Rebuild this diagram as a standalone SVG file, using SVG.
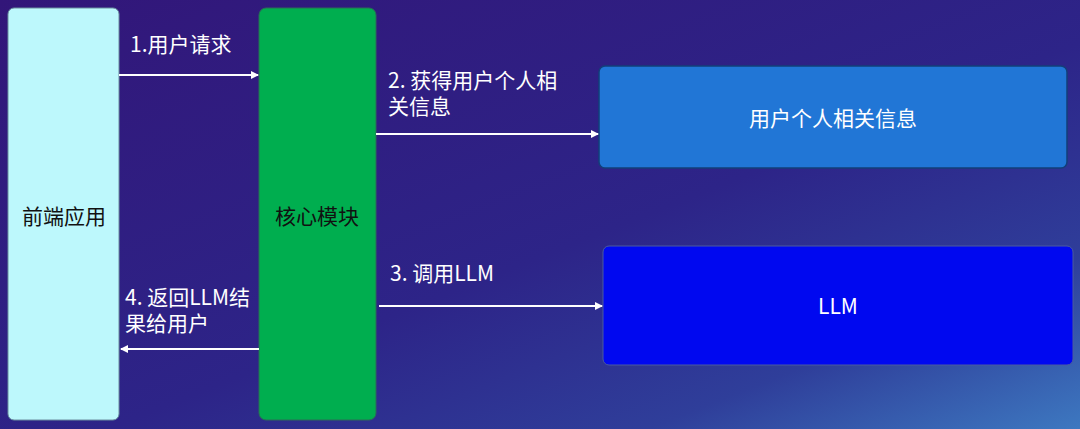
<svg xmlns="http://www.w3.org/2000/svg" width="1080" height="429" viewBox="0 0 1080 429">
<defs>
<linearGradient id="bg" x1="0" y1="0" x2="1" y2="1">
<stop offset="0" stop-color="#321679"/>
<stop offset="0.55" stop-color="#2d2488"/>
<stop offset="0.8" stop-color="#2f3e9a"/>
<stop offset="1" stop-color="#3d78c0"/>
</linearGradient>
<marker id="ah" markerWidth="8" markerHeight="8" refX="7" refY="4" orient="auto" markerUnits="userSpaceOnUse">
<path d="M0,0 L8,4 L0,8 Z" fill="#ffffff"/>
</marker>
<style>
text{font-family:"Noto Sans CJK SC","Noto Sans",sans-serif;font-size:21px;fill:#ffffff}
.lbl{font-size:20px}
.dark{fill:#111111}
.mid{text-anchor:middle;dominant-baseline:central}
.conn{stroke:#ffffff;stroke-width:2;fill:none;marker-end:url(#ah)}
</style>
</defs>
<rect width="1080" height="429" fill="url(#bg)"/>
<g id="frontend">
<rect x="8" y="8" width="111" height="412" rx="6" fill="#bdf8fc" stroke="#6a8fa0" stroke-width="1"/>
<text class="mid dark" x="64" y="215">前端应用</text>
</g>
<g id="core">
<rect x="259" y="8" width="117" height="412" rx="7" fill="#00ae4f" stroke="#2c6a58" stroke-width="1"/>
<text class="mid dark" x="317" y="215">核心模块</text>
</g>
<g id="userinfo">
<rect x="599" y="66" width="468" height="102" rx="6" fill="#2176d6" stroke="#123f7a" stroke-width="1.5"/>
<text class="mid" x="833" y="117">用户个人相关信息</text>
</g>
<g id="llm">
<rect x="603" y="246" width="470" height="119" rx="6" fill="#0008f0" stroke="#4a5aa0" stroke-width="1"/>
<text class="mid" x="838" y="305">LLM</text>
</g>
<g id="connectors">
<line class="conn" x1="119" y1="75" x2="258" y2="75"/>
<line class="conn" x1="376" y1="134" x2="598" y2="134"/>
<line class="conn" x1="379" y1="306" x2="602" y2="306"/>
<line class="conn" x1="259" y1="349" x2="121" y2="349"/>
<text x="130" y="52">1.用户请求</text>
<text x="388" y="88">2. 获得用户个人相<tspan x="388" dy="26">关信息</tspan></text>
<text x="390" y="281">3. 调用LLM</text>
<text x="125" y="305">4. 返回LLM结<tspan x="125" dy="26">果给用户</tspan></text>
</g>
</svg>
